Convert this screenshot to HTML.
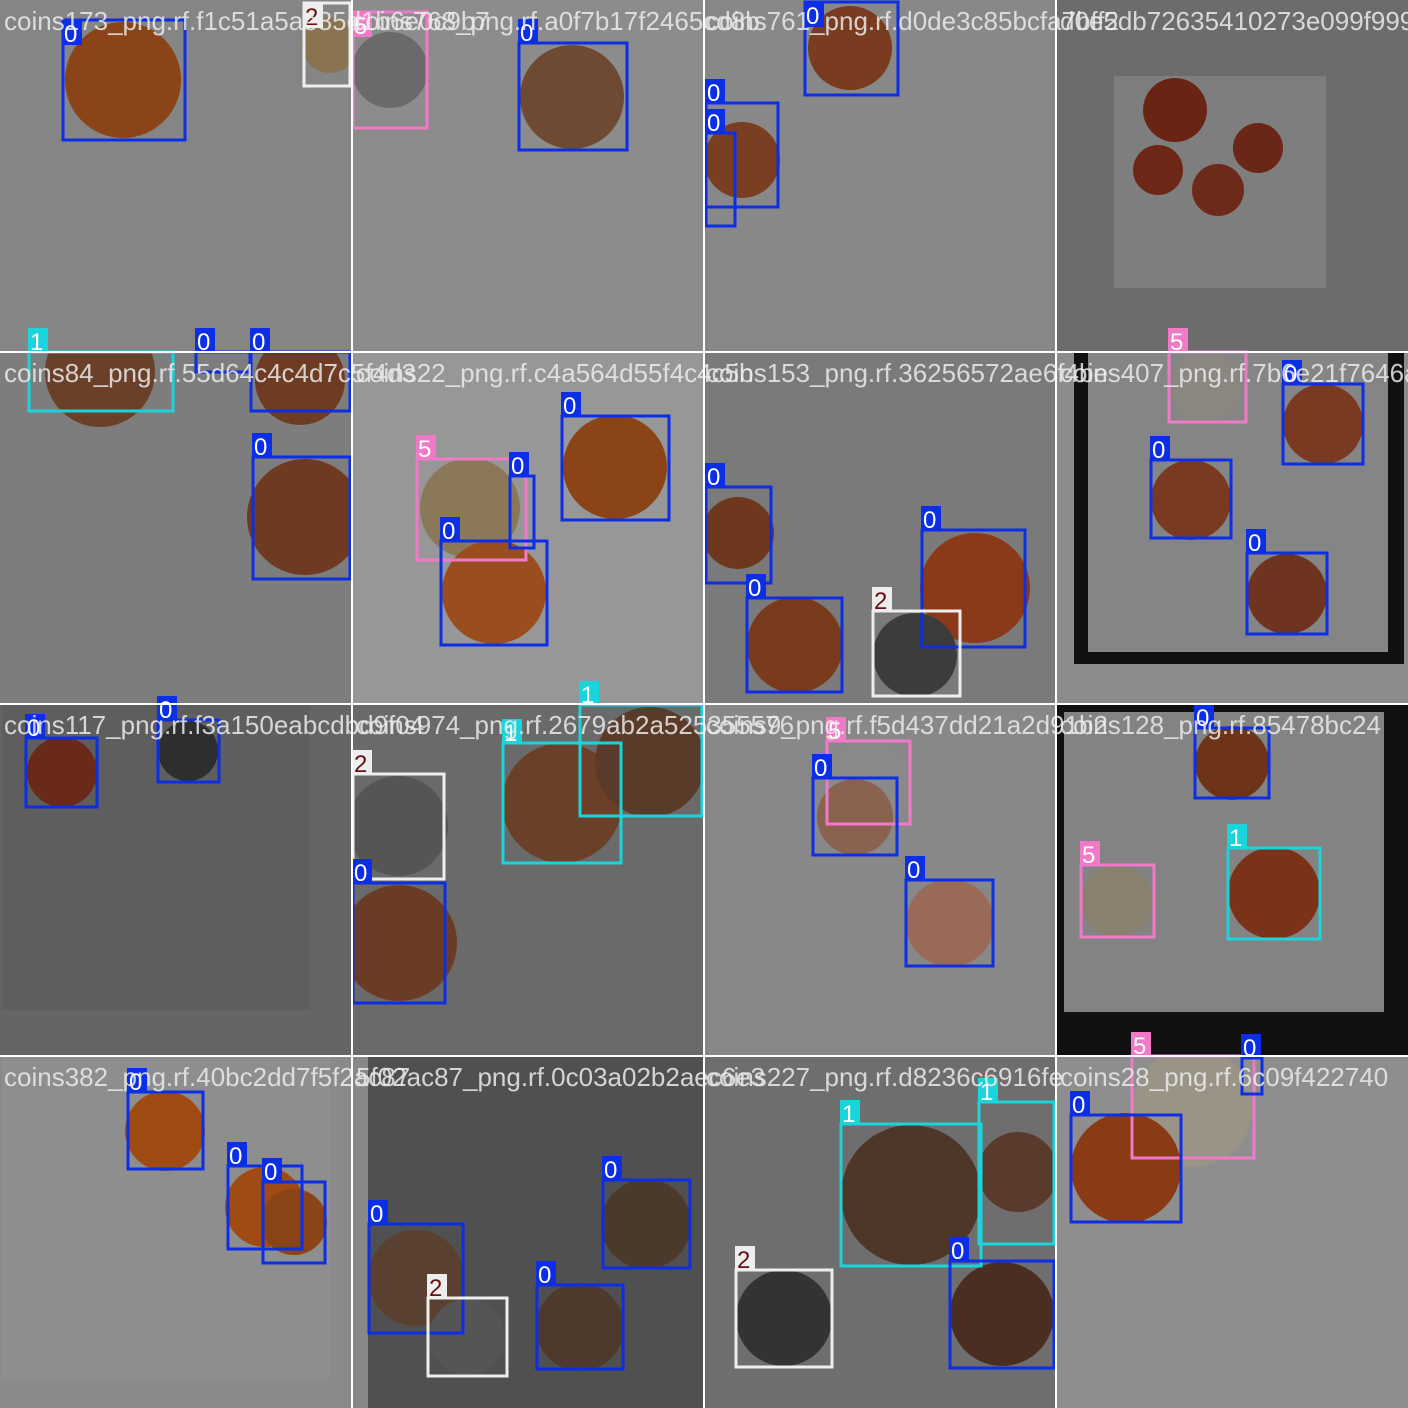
<!DOCTYPE html>
<html><head><meta charset="utf-8"><style>html,body{margin:0;padding:0;background:#fff}svg{display:block}</style></head>
<body>
<svg id="m" width="1408" height="1408" viewBox="0 0 1408 1408" xmlns="http://www.w3.org/2000/svg">
<defs id="defs"></defs>
<g id="bgs"></g><g id="coins"></g><g id="boxes"></g><g id="names"></g>
</svg>
<script>
const NS='http://www.w3.org/2000/svg';
// tile backgrounds: [x,y,w,h,color]
const tileBgs=[
[0,0,352,352,'#858585'],[352,0,352,352,'#8c8c8c'],[704,0,352,352,'#888888'],[1056,0,352,352,'#6c6c6c'],[1114,76,212,212,'#7e7e7e'],
[0,352,352,352,'#7d7d7d'],[352,352,352,352,'#979797'],[704,352,352,352,'#7a7a7a'],[1056,352,352,352,'#8c8c8c'],[1074,352,330,312,'#111'],[1088,352,300,300,'#858585'],
[0,704,352,352,'#656565'],[2,704,308,306,'#5e5e5e'],[352,704,352,352,'#6a6a6a'],[704,704,352,352,'#888888'],[1056,704,352,352,'#111'],[1064,712,320,300,'#838383'],
[0,1056,352,352,'#8a8a8a'],[2,1056,328,324,'#8e8e8e'],[352,1056,352,352,'#888'],[368,1056,336,352,'#505050'],[704,1056,352,352,'#6e6e6e'],[1056,1056,352,352,'#8e8e8e']
];
// coins: [cx,cy,r,color]
const coinList=[
[123,80,58,'#8a4418'],[330,45,28,'#8a7450'],[390,70,38,'#6a6a6a'],[572,97,52,'#6e4a33'],[850,48,42,'#7a3c20'],[742,160,38,'#7a3f22'],
[1175,110,32,'#6a2414'],[1158,170,25,'#6e2616'],[1258,148,25,'#6a2616'],[1218,190,26,'#6e2a18'],
[100,372,55,'#6a4028'],[300,380,45,'#6e3c22'],[305,517,58,'#6e3a22'],[470,508,50,'#8a7858'],[494,592,52,'#9a4e1e'],[615,467,52,'#8a4418'],
[738,533,36,'#6e381e'],[795,645,48,'#7a3a1c'],[975,588,55,'#8a3a18'],[915,655,42,'#3c3c3c'],[1206,388,36,'#8a8680'],[1323,424,40,'#7a3a22'],[1191,500,40,'#7a3a22'],[1287,594,40,'#6e3420'],
[62,772,35,'#6a2a1a'],[188,751,30,'#2e2e2e'],[398,826,50,'#555'],[399,943,58,'#6a3c26'],[562,803,60,'#6a4028'],[650,762,55,'#5a3a28'],
[868,785,42,'#8a8a8a'],[855,817,38,'#8a6250'],[950,923,44,'#9a6a58'],[1232,763,37,'#6e3418'],[1117,901,36,'#8a8070'],[1274,893,46,'#7a3218'],
[165,1131,40,'#a04a14'],[265,1207,40,'#a04a14'],[294,1222,33,'#8a4418'],[416,1278,48,'#5a4030'],[467,1337,38,'#555'],[580,1327,44,'#4e3a2c'],[646,1224,45,'#4a3a2c'],
[911,1195,70,'#4e3628'],[1018,1172,40,'#5a3a2c'],[784,1318,48,'#333'],[1002,1314,52,'#4a2e22'],[1193,1107,60,'#9a9486'],[1126,1168,55,'#8a3a14']
];
// boxes: [x1,y1,x2,y2,cls]
const boxList=[
[63,20,185,140,0],[304,3,350,86,2],[353,12,427,128,5],[519,43,627,150,0],[805,2,898,95,0],[706,103,778,207,0],[706,133,735,226,0],
[29,352,173,411,1],[196,352,250,372,0],[251,352,350,411,0],[253,457,350,579,0],[417,459,526,560,5],[510,476,534,548,0],[441,541,547,645,0],[562,416,669,520,0],
[706,487,771,583,0],[747,598,842,692,0],[922,530,1025,647,0],[873,611,960,696,2],[1169,352,1246,422,5],[1283,384,1363,464,0],[1151,460,1231,538,0],[1247,553,1327,634,0],
[26,738,97,807,0],[158,720,219,782,0],[353,774,444,879,2],[353,883,445,1003,0],[503,743,621,863,1],[580,705,702,816,1],[827,741,910,824,5],[813,778,897,855,0],[906,880,993,966,0],
[1195,728,1269,798,0],[1081,865,1154,937,5],[1228,848,1320,939,1],
[128,1092,203,1169,0],[228,1166,302,1249,0],[263,1182,325,1263,0],[369,1224,463,1333,0],[428,1298,507,1376,2],[537,1285,623,1369,0],[603,1180,690,1268,0],
[841,1124,981,1266,1],[979,1102,1054,1244,1],[736,1270,832,1367,2],[950,1261,1054,1368,0],[1132,1056,1254,1158,5],[1242,1058,1262,1094,0],[1071,1115,1181,1222,0]
];
const clsColor={0:'#0c2ee6',1:'#1ad4dc',2:'#eeeeee',5:'#f07ac8'};
const names=[
[4,30,'coins173_png.rf.f1c51a5ae85d1b6e0c9b7'],[352,30,'coins768_png.rf.a0f7b17f2465cd8b'],[706,30,'coins761_png.rf.d0de3c85bcfa7bff2'],[1060,30,'d0e5db72635410273e099f999'],
[4,382,'coins84_png.rf.55d64c4c4d7c5f4d3'],[356,382,'coins22_png.rf.c4a564d55f4c4c5b'],[706,382,'coins153_png.rf.36256572ae6f4be'],[1060,382,'coins407_png.rf.7b6e21f7646a7e'],
[4,734,'coins117_png.rf.f3a150eabcdbd9f04'],[356,734,'coins974_png.rf.2679ab2a525355576'],[706,734,'coins9_png.rf.f5d437dd21a2d91b2'],[1060,734,'coins128_png.rf.85478bc24'],
[4,1086,'coins382_png.rf.40bc2dd7f5f2ac87'],[356,1086,'5f02ac87_png.rf.0c03a02b2aec6e3'],[706,1086,'coins227_png.rf.d8236c6916fe'],[1060,1086,'coins28_png.rf.6c09f422740']
];
function el(t,p,a){const e=document.createElementNS(NS,t);for(const k in a)e.setAttribute(k,a[k]);p.appendChild(e);return e;}
const gb=document.getElementById('bgs'),gc=document.getElementById('coins'),gx=document.getElementById('boxes'),gn=document.getElementById('names'),gd=document.getElementById('defs');
for(let i=0;i<4;i++)for(let j=0;j<4;j++){
  const cp=el('clipPath',gd,{id:'t'+i+'_'+j});
  el('rect',cp,{x:i*352,y:j*352,width:352,height:352});
}
tileBgs.forEach(t=>{
  const r=el('rect',gb,{x:t[0],y:t[1],width:t[2],height:t[3],fill:t[4]});
  
  
});
coinList.forEach(c=>{
  const ti=Math.min(3,Math.floor(c[0]/352)),tj=Math.min(3,Math.floor(c[1]/352));
  const e=el('circle',gc,{cx:c[0],cy:c[1],r:c[2],fill:c[3],'clip-path':'url(#t'+ti+'_'+tj+')'});
  
  
});
boxList.forEach(b=>{
  const col=clsColor[b[4]];
  const r=el('rect',gx,{x:b[0],y:b[1],width:b[2]-b[0],height:b[3]-b[1],fill:'none',stroke:col,'stroke-width':3});
  
  
  const ly=b[1]-24<0?b[1]:b[1]-24;
  const lr=el('rect',gx,{x:b[0]-1,y:ly,width:20,height:25,fill:col});
  
  
  const tx=el('text',gx,{x:b[0]+1,y:ly+22,fill:b[4]==2?'#6a1010':'#fff','font-size':24,'font-family':'Liberation Sans, sans-serif'});
  tx.textContent=String(b[4]);
  
  
});
names.forEach(n=>{
  const t=el('text',gn,{x:n[0],y:n[1],fill:'rgba(235,235,235,0.85)','font-size':26,'font-family':'Liberation Sans, sans-serif'});
  t.textContent=n[2];
  
  
});
[352,704,1056].forEach(v=>{
  const a=el('rect',gn,{x:v-1,y:0,width:2,height:1408,fill:'#fff'});
  
  
  const b=el('rect',gn,{x:0,y:v-1,width:1408,height:2,fill:'#fff'});
  
  
});
</script>
</body></html>
